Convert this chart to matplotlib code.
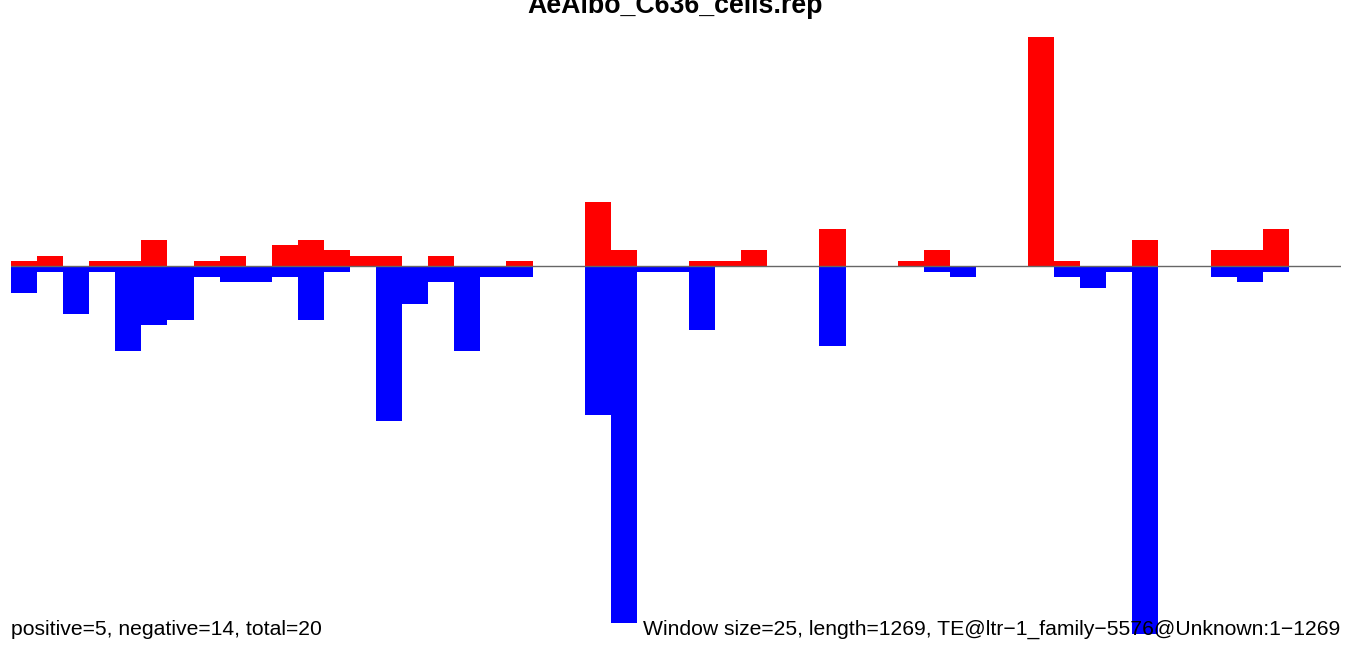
import numpy as np
import matplotlib
matplotlib.use("Agg")
import matplotlib.pyplot as plt

plt.rcParams['font.family'] = ['Liberation Sans', 'DejaVu Sans']

TITLE = "AeAlbo_C636_cells.rep"
LEFT_NOTE = "positive=5, negative=14, total=20"
RIGHT_NOTE = "Window size=25, length=1269, TE@ltr\u22121_family\u22125576@Unknown:1\u22121269"
WINDOW = 25
LENGTH = 1269

# counts per 25bp window (window index 0..50)
positive = [1, 2, 0, 1, 1, 5, 0, 1, 2, 0, 4, 5, 3, 2, 2, 0, 2, 0, 0, 1,
            0, 0, 12, 3, 0, 0, 1, 1, 3, 0, 0, 7, 0, 0, 1, 3, 0, 0, 0, 43,
            1, 0, 0, 5, 0, 0, 3, 3, 7, 0, 0]
negative = [5, 1, 9, 1, 16, 11, 10, 2, 3, 3, 2, 10, 1, 0, 29, 7, 3, 16, 2, 2,
            0, 0, 28, 67, 1, 1, 12, 0, 0, 0, 0, 15, 0, 0, 0, 1, 2, 0, 0, 0,
            2, 4, 1, 69, 0, 0, 2, 3, 1, 0, 0]

W, H = 1352, 646
fig = plt.figure(figsize=(W / 100, H / 100), dpi=100)
ax = fig.add_axes([11 / W, 1 - 634 / H, (1341 - 11) / W, (634 - 37) / H])

starts = np.arange(len(positive)) * WINDOW
pos = np.array(positive)
neg = np.array(negative)
xmax = len(positive) * WINDOW
ax.bar(starts, pos, width=WINDOW, align='edge', color='#ff0000', linewidth=0)
ax.bar(starts, -neg, width=WINDOW, align='edge', color='#0000ff', linewidth=0)
ax.plot([0, xmax], [0, 0], color='#666666', linewidth=1)

ax.set_xlim(0, xmax)
ax.set_ylim(-69, 43)
ax.axis('off')

fig.text(0.5 - 0.5 / W, 1 - 13 / H, TITLE, ha='center', va='baseline',
         fontsize=19.3, fontweight='bold')
fig.text(11 / W, 1 - 635 / H, LEFT_NOTE, ha='left', va='baseline', fontsize=15.2)
fig.text(1340 / W, 1 - 635 / H, RIGHT_NOTE, ha='right', va='baseline', fontsize=15.2)

fig.savefig("out.png", dpi=100)
